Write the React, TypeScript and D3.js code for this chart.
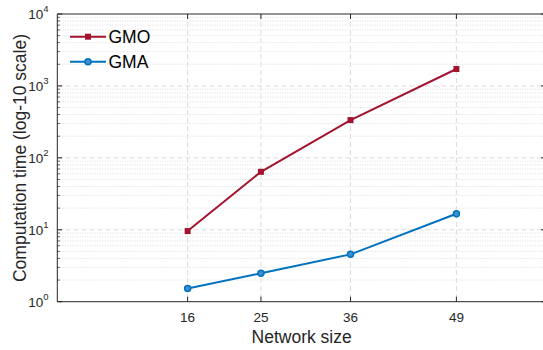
import React, { useEffect, useRef } from "react";
import * as d3 from "d3";

// network sizes on the x axis
const sizes = [16, 25, 36, 49];
// computation time, seconds
const gmo = [9.6, 64, 335, 1720];
const gma = [1.53, 2.48, 4.55, 16.7];
const xTicks = [16, 25, 36, 49];
const yDecades = [0, 1, 2, 3, 4];

const W = 543;
const H = 350;

const App = () => {
  const ref = useRef<SVGSVGElement>(null);

  useEffect(() => {
    drawChart();
    //eslint-disable-next-line
  }, []);

  function drawChart() {
    const svg = d3.select(ref.current);
    svg.selectAll("*").remove();

    const left = 57.3;
    const right = 546;
    const top = 14;
    const bottom = 301.7;
    const axisColor = "#262626";
    const font = "'Liberation Sans', Arial, Helvetica, sans-serif";

    const x = d3.scaleLinear().domain([0, 60]).range([left, right]);
    const y = d3.scaleLog().domain([1, 10000]).range([bottom, top]);

    const g = svg.append("g");

    // minor grid (dotted)
    const minors: number[] = [];
    for (let d = 0; d < 4; d++) {
      for (let k = 2; k <= 9; k++) minors.push(k * Math.pow(10, d));
    }
    g.selectAll(".minor")
      .data(minors)
      .join("line")
      .attr("x1", left)
      .attr("x2", right)
      .attr("y1", (d) => y(d))
      .attr("y2", (d) => y(d))
      .attr("stroke", "#d4d4d4")
      .attr("stroke-width", 0.8)
      .attr("stroke-dasharray", "1,1.5");

    // major grid (dashed)
    g.selectAll(".majorY")
      .data(yDecades.slice(1, 4))
      .join("line")
      .attr("x1", left)
      .attr("x2", right)
      .attr("y1", (d) => y(Math.pow(10, d)))
      .attr("y2", (d) => y(Math.pow(10, d)))
      .attr("stroke", "#dcdcdc")
      .attr("stroke-width", 1)
      .attr("stroke-dasharray", "5,3");
    g.selectAll(".majorX")
      .data(xTicks)
      .join("line")
      .attr("x1", (d) => x(d))
      .attr("x2", (d) => x(d))
      .attr("y1", top)
      .attr("y2", bottom)
      .attr("stroke", "#dcdcdc")
      .attr("stroke-width", 1)
      .attr("stroke-dasharray", "5,3");

    // axes box
    g.append("line").attr("x1", left).attr("x2", right).attr("y1", bottom).attr("y2", bottom)
      .attr("stroke", axisColor).attr("stroke-width", 1);
    g.append("line").attr("x1", left).attr("x2", right).attr("y1", top).attr("y2", top)
      .attr("stroke", axisColor).attr("stroke-width", 1);
    g.append("line").attr("x1", left).attr("x2", left).attr("y1", top).attr("y2", bottom)
      .attr("stroke", axisColor).attr("stroke-width", 1);

    // ticks
    xTicks.forEach((t) => {
      g.append("line").attr("x1", x(t)).attr("x2", x(t)).attr("y1", bottom).attr("y2", bottom - 5)
        .attr("stroke", axisColor);
      g.append("line").attr("x1", x(t)).attr("x2", x(t)).attr("y1", top).attr("y2", top + 5)
        .attr("stroke", axisColor);
      g.append("text")
        .attr("x", x(t))
        .attr("y", bottom + 20)
        .attr("text-anchor", "middle")
        .attr("font-family", font)
        .attr("font-size", 13.5)
        .attr("fill", axisColor)
        .text(t);
    });
    yDecades.forEach((d) => {
      const yy = y(Math.pow(10, d));
      g.append("line").attr("x1", left).attr("x2", left + 5).attr("y1", yy).attr("y2", yy)
        .attr("stroke", axisColor);
      g.append("line").attr("x1", right).attr("x2", right - 5).attr("y1", yy).attr("y2", yy)
        .attr("stroke", axisColor);
      const txt = g.append("text")
        .attr("x", 48.5)
        .attr("y", yy + 5)
        .attr("text-anchor", "end")
        .attr("font-family", font)
        .attr("font-size", 13.5)
        .attr("fill", axisColor);
      txt.append("tspan").text("10");
      txt.append("tspan").attr("dy", -7).attr("font-size", 9.5).text(d);
    });
    minors.forEach((m) => {
      g.append("line").attr("x1", left).attr("x2", left + 2.5).attr("y1", y(m)).attr("y2", y(m))
        .attr("stroke", axisColor).attr("stroke-width", 0.8);
    });

    // axis labels
    g.append("text")
      .attr("x", x(30))
      .attr("y", 343)
      .attr("text-anchor", "middle")
      .attr("font-family", font)
      .attr("font-size", 17.5)
      .attr("fill", axisColor)
      .text("Network size");
    g.append("text")
      .attr("transform", `translate(26,158) rotate(-90)`)
      .attr("text-anchor", "middle")
      .attr("font-family", font)
      .attr("font-size", 17.5)
      .attr("fill", axisColor)
      .text("Computation time (log-10 scale)");

    const line = d3
      .line<number>()
      .x((_, i) => x(sizes[i]))
      .y((d) => y(d));

    const series = [
      { name: "GMO", values: gmo, color: "#A2142F", marker: "square" },
      { name: "GMA", values: gma, color: "#0072BD", marker: "circle" },
    ];

    series.forEach((s, si) => {
      g.append("path")
        .attr("d", line(s.values))
        .attr("fill", "none")
        .attr("stroke", s.color)
        .attr("stroke-width", 2);
      if (s.marker === "square") {
        g.selectAll(".m" + si)
          .data(s.values)
          .join("rect")
          .attr("x", (_, i) => x(sizes[i]) - 3)
          .attr("y", (d) => y(d) - 3)
          .attr("width", 6)
          .attr("height", 6)
          .attr("fill", s.color);
      } else {
        g.selectAll(".m" + si)
          .data(s.values)
          .join("circle")
          .attr("cx", (_, i) => x(sizes[i]))
          .attr("cy", (d) => y(d))
          .attr("r", 3)
          .attr("fill", "#3d8fd0")
          .attr("stroke", s.color)
          .attr("stroke-width", 1.5);
      }

      // legend
      const ly = 36.7 + si * 25;
      g.append("line").attr("x1", 70).attr("x2", 106).attr("y1", ly).attr("y2", ly)
        .attr("stroke", s.color).attr("stroke-width", 2);
      if (s.marker === "square") {
        g.append("rect").attr("x", 85).attr("y", ly - 3).attr("width", 6).attr("height", 6)
          .attr("fill", s.color);
      } else {
        g.append("circle").attr("cx", 88).attr("cy", ly).attr("r", 3)
          .attr("fill", "#3d8fd0").attr("stroke", s.color).attr("stroke-width", 1.5);
      }
      g.append("text")
        .attr("x", 108.5)
        .attr("y", ly + 6.2)
        .attr("font-family", font)
        .attr("font-size", 17.5)
        .attr("fill", "#000")
        .text(s.name);
    });
  }

  return (
    <div style={{ position: "fixed", left: 0, top: 0, width: W, height: H, background: "#fff" }}>
      <svg ref={ref} width={W} height={H} style={{ display: "block", overflow: "hidden" }} />
    </div>
  );
};

export default App;
